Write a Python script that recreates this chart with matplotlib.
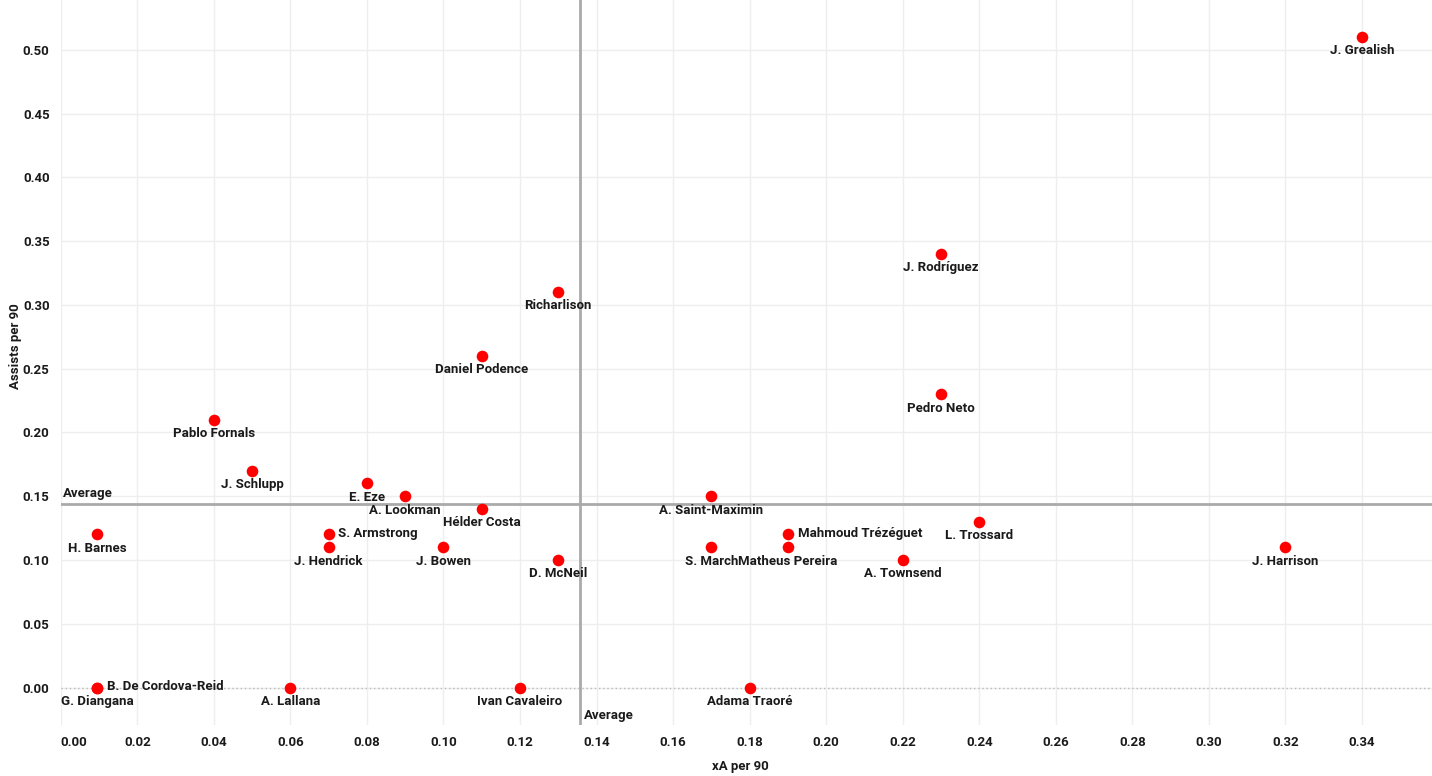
import matplotlib
matplotlib.use("Agg")
import matplotlib.pyplot as plt

plt.rcParams["font.family"] = ["Roboto", "DejaVu Sans"]
plt.rcParams["font.weight"] = "bold"

# data: xA per 90 / assists per 90
players = ["J. Grealish", "J. Rodríguez", "Richarlison", "Daniel Podence", "Pedro Neto",
           "Pablo Fornals", "J. Schlupp", "E. Eze", "A. Lookman", "Hélder Costa",
           "A. Saint-Maximin", "H. Barnes", "S. Armstrong", "J. Hendrick", "J. Bowen",
           "D. McNeil", "S. March", "Mahmoud Trézéguet", "Matheus Pereira", "A. Townsend",
           "L. Trossard", "J. Harrison", "B. De Cordova-Reid", "G. Diangana", "A. Lallana",
           "Ivan Cavaleiro", "Adama Traoré"]
xa = [0.34, 0.23, 0.13, 0.11, 0.23,
      0.04, 0.05, 0.08, 0.09, 0.11,
      0.17, 0.0095, 0.07, 0.07, 0.10,
      0.13, 0.17, 0.19, 0.19, 0.22,
      0.24, 0.32, 0.0095, 0.0095, 0.06,
      0.12, 0.18]
assists = [0.51, 0.34, 0.31, 0.26, 0.23,
           0.21, 0.17, 0.16, 0.15, 0.14,
           0.15, 0.12, 0.12, 0.11, 0.11,
           0.10, 0.11, 0.12, 0.11, 0.10,
           0.13, 0.11, 0.00, 0.00, 0.00,
           0.00, 0.00]
# labels drawn to the right of the dot instead of below
right_labels = ["S. Armstrong", "Mahmoud Trézéguet", "B. De Cordova-Reid"]

avg_x = 0.1357
avg_y = 0.1437

xticks = [round(0.02 * i, 2) for i in range(18)]
yticks = [round(0.05 * i, 2) for i in range(11)]

FS = 9.5
TXT = "#1a1a1a"

fig = plt.figure(figsize=(14.32, 7.76), dpi=100)
ax = fig.add_axes([0.0424, 0.0657, 0.9576, 0.9343])
ax.set_xlim(0, 0.3583)
ax.set_ylim(-0.0294, 0.539)

ax.set_xticks(xticks)
ax.set_yticks(yticks)
ax.set_xticklabels([f"{t:.2f}" for t in xticks])
ax.set_yticklabels([f"{t:.2f}" for t in yticks])
ax.get_xticklabels()[0].set_horizontalalignment("left")
ax.tick_params(length=0, labelsize=FS, pad=8, colors=TXT)
for lbl in ax.get_xticklabels() + ax.get_yticklabels():
    lbl.set_fontweight("bold")
ax.grid(color="#eeeeee", lw=1)
ax.set_axisbelow(True)
for s in ax.spines.values():
    s.set_visible(False)

ax.axhline(0, color="#bbbbbb", lw=1, ls=(0, (1, 2)), zorder=1)
ax.axhline(avg_y, color="#aaaaaa", lw=2, zorder=2)
ax.axvline(avg_x, color="#aaaaaa", lw=2, zorder=2)
ax.text(0.0007, avg_y + 0.003, "Average", fontsize=FS, fontweight="bold",
        ha="left", va="bottom", color=TXT)
ax.text(avg_x + 0.001, -0.022, "Average", fontsize=FS, fontweight="bold",
        ha="left", va="center", color=TXT)

ax.scatter(xa, assists, s=70, color="#ff0000", zorder=3, linewidths=0)
for name, x, y in zip(players, xa, assists):
    if name in right_labels:
        ax.annotate(name, (x, y), xytext=(7, 1), textcoords="offset points",
                    ha="left", va="center", fontsize=FS, fontweight="bold", color=TXT)
    else:
        ax.annotate(name, (x, y), xytext=(0, -10), textcoords="offset points",
                    ha="center", va="center", fontsize=FS, fontweight="bold", color=TXT)

ax.set_xlabel("xA per 90", fontsize=FS, fontweight="bold", color=TXT)
ax.set_ylabel("Assists per 90", fontsize=FS, fontweight="bold", color=TXT)
ax.xaxis.set_label_coords((740 - 60.7) / (1432 - 60.7), -0.048)
ax.yaxis.set_label_coords(-0.0285, (725 - 346) / 725)

fig.savefig("out.png", dpi=100)
